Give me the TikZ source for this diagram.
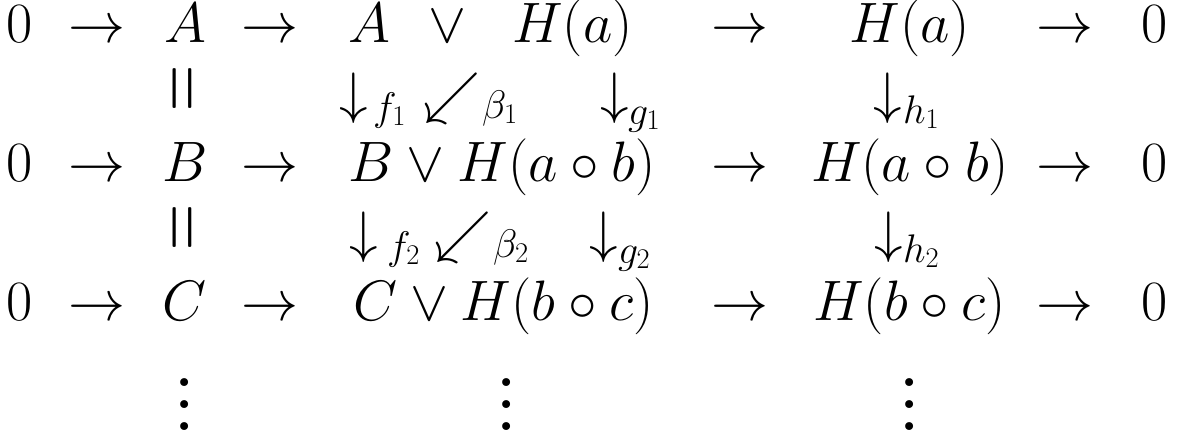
\RequirePackage{fix-cm}
\documentclass[tikz,border=0pt]{standalone}
\usepackage{amsmath}
\usepackage{graphicx}
\newcommand\bigdot{\hbox{\scalebox{1.7}{.}}}
\newcommand\myvdots{\vbox{\baselineskip=22pt\lineskiplimit=-100pt\lineskip=0pt\bigdot\bigdot\bigdot}}
\tikzset{
  bigmath/.style={inner sep=0pt,outer sep=0pt,font=\fontsize{57}{60}\selectfont},
  rowtxt/.style={bigmath,anchor=base},
  vsym/.style={bigmath,anchor=center},
  lbl/.style={bigmath,anchor=base west}
}
\newcommand\rowent[4]{\node[rowtxt] (#1) at (#2pt,-#3pt) {$\displaystyle #4$};}
\newcommand\symat[4]{\node[vsym] (#1) at (#2pt,-#3pt) {$\displaystyle #4$};}
\newcommand\lblat[4]{\node[lbl] (#1) at (#2pt,-#3pt) {$\scriptstyle #4$};}
\begin{document}
\begin{tikzpicture}
\path[use as bounding box] (0,0) rectangle (1177pt,-436pt);
% row 1
\rowent{r1a}{20}{42.5}{0}
\rowent{r1b}{96.5}{42.5}{\to}
\rowent{r1c}{185}{42.5}{A}
\rowent{r1d}{270}{42.5}{\to}
\rowent{r1e}{369.5}{42.5}{A}
\rowent{r1f}{447.5}{42.5}{\vee}
\rowent{r1g}{572.5}{42.5}{H(a)}
\rowent{r1h}{740}{42.5}{\to}
\rowent{r1i}{910}{42.5}{H(a)}
\rowent{r1j}{1064.5}{42.5}{\to}
\rowent{r1k}{1155}{42.5}{0}
% row 2
\symat{r2eq}{182.5}{89}{\scalebox{1.4}[0.7]{$\|$}}
\symat{r2fa}{353.5}{98}{\downarrow}
\lblat{r2fl}{373}{120}{f_1}
\symat{r2ba}{452}{98}{\swarrow}
\lblat{r2bl}{482}{118}{\beta_1}
\symat{r2ga}{615}{98}{\downarrow}
\lblat{r2gl}{628}{124}{g_1}
\symat{r2ha}{888}{98}{\downarrow}
\lblat{r2hl}{903}{123}{h_1}
% row 3
\rowent{r3a}{20}{181.5}{0}
\rowent{r3b}{96.5}{181.5}{\to}
\rowent{r3c}{185}{181.5}{B}
\rowent{r3d}{270}{181.5}{\to}
\rowent{r3e}{502}{181.5}{B\vee H(a\circ b)}
\rowent{r3h}{740}{181.5}{\to}
\rowent{r3i}{910}{181.5}{H(a\circ b)}
\rowent{r3j}{1064.5}{181.5}{\to}
\rowent{r3k}{1155}{181.5}{0}
% row 4
\symat{r4eq}{182.5}{228}{\scalebox{1.4}[0.7]{$\|$}}
\symat{r4fa}{364}{237}{\downarrow}
\lblat{r4fl}{387}{259}{f_2}
\symat{r4ba}{463}{237}{\swarrow}
\lblat{r4bl}{493}{257}{\beta_2}
\symat{r4ga}{604}{237}{\downarrow}
\lblat{r4gl}{618}{263}{g_2}
\symat{r4ha}{889}{237}{\downarrow}
\lblat{r4hl}{903}{262}{h_2}
% row 5
\rowent{r5a}{20}{320.5}{0}
\rowent{r5b}{96.5}{320.5}{\to}
\rowent{r5c}{185}{320.5}{C}
\rowent{r5d}{270}{320.5}{\to}
\rowent{r5e}{503.5}{320.5}{C\vee H(b\circ c)}
\rowent{r5h}{740}{320.5}{\to}
\rowent{r5i}{909.5}{320.5}{H(b\circ c)}
\rowent{r5j}{1064.5}{320.5}{\to}
\rowent{r5k}{1155}{320.5}{0}
% row 6
\symat{r6c}{185}{404.5}{\myvdots}
\symat{r6e}{507}{404.5}{\myvdots}
\symat{r6i}{910}{404.5}{\myvdots}
\end{tikzpicture}
\end{document}
